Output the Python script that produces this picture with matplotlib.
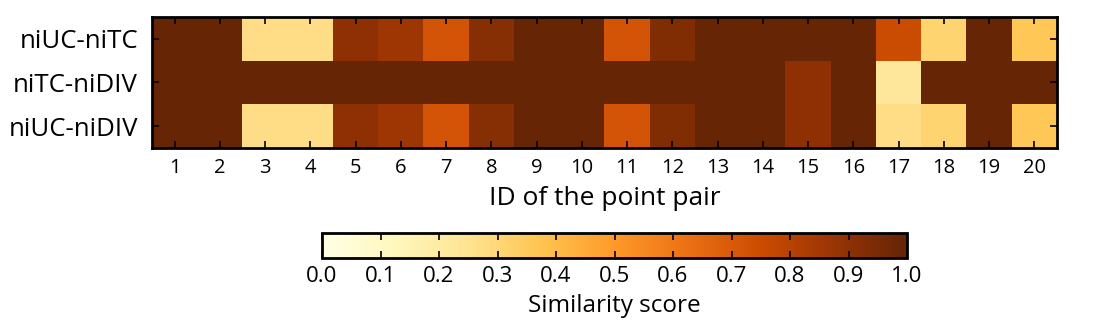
import matplotlib.pyplot as plt
import numpy as np

rows = ['niUC-niTC', 'niTC-niDIV', 'niUC-niDIV']
pair_ids = list(range(1, 21))

uc_tc = [1.0, 1.0, 0.27, 0.27, 0.90, 0.86, 0.72, 0.92, 1.0, 1.0,
         0.72, 0.93, 1.0, 1.0, 1.0, 1.0, 0.75, 0.31, 1.0, 0.36]
tc_div = [1.0, 1.0, 1.0, 1.0, 1.0, 1.0, 1.0, 1.0, 1.0, 1.0,
          1.0, 1.0, 1.0, 1.0, 0.90, 1.0, 0.22, 1.0, 1.0, 1.0]
uc_div = [1.0, 1.0, 0.27, 0.27, 0.90, 0.86, 0.72, 0.92, 1.0, 1.0,
          0.72, 0.93, 1.0, 1.0, 0.90, 1.0, 0.27, 0.31, 1.0, 0.36]

cbar_ticks = [0.0, 0.1, 0.2, 0.3, 0.4, 0.5, 0.6, 0.7, 0.8, 0.9, 1.0]

data = np.array([uc_tc, tc_div, uc_div])

plt.rcParams['font.family'] = ['Open Sans', 'DejaVu Sans']

fig = plt.figure(figsize=(10.94, 3.29), dpi=100)
ax = fig.add_axes([152/1094, 1 - 148/329, (1057-152)/1094, (148-17)/329])
im = ax.imshow(data, cmap='YlOrBr', vmin=0, vmax=1, aspect='auto',
               interpolation='nearest')

ax.set_xticks(range(len(pair_ids)))
ax.set_xticklabels(pair_ids, fontsize=14.5)
ax.set_yticks(range(len(rows)))
ax.set_yticklabels(rows, fontsize=18.5)
ax.tick_params(direction='in', top=True, right=True, length=5, width=1.2)
ax.tick_params(axis='x', pad=7)
ax.tick_params(axis='y', pad=10)
ax.set_xlabel('ID of the point pair', fontsize=19, labelpad=6)
for s in ax.spines.values():
    s.set_linewidth(2)

cax = fig.add_axes([322/1094, 1 - 258/329, (907-322)/1094, 25/329])
cb = fig.colorbar(im, cax=cax, orientation='horizontal', ticks=cbar_ticks)
cb.ax.tick_params(direction='in', top=True, length=5, width=1.2,
                  labelsize=16, pad=6)
cb.outline.set_linewidth(2)
cb.set_label('Similarity score', fontsize=17.5, labelpad=5)

fig.savefig('out.png', dpi=100)
